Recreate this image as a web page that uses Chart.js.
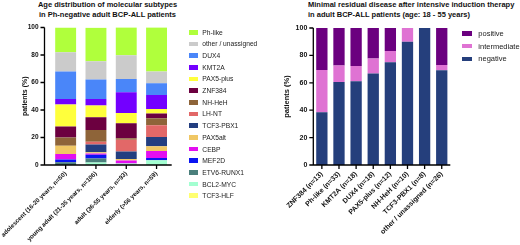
<!DOCTYPE html>
<html>
<head>
<meta charset="utf-8">
<script src="https://cdn.jsdelivr.net/npm/chart.js@4"></script>
<style>
  html, body { margin:0; padding:0; background:#fff; width:520px; height:245px; overflow:hidden; }
  body { position:relative; font-family:"Liberation Sans", Arial, sans-serif; }
  canvas { position:absolute; left:0; top:0; }
  .title { position:absolute; font-weight:bold; font-size:7.5px; line-height:9.6px; color:#111; white-space:nowrap; }
  .leg { position:absolute; white-space:nowrap; color:#222; }
  .leg .it { position:absolute; left:0; display:flex; align-items:center; }
  .leg .bx { display:inline-block; }
</style>
</head>
<body>
<div class="title" id="t1" style="left:0; width:215px; text-align:center; top:0px;">Age distribution of molecular subtypes<br>in Ph-negative adult BCP-ALL patients</div>
<div class="title" id="t2" style="left:308px; top:0px;">Minimal residual disease after intensive induction therapy<br>in adult BCP-ALL patients (age: 18 - 55 years)</div>
<canvas id="c1" width="520" height="245"></canvas>
<canvas id="c2" width="520" height="245"></canvas>
<div class="leg" id="leg1" style="left:189px; top:0;"></div>
<div class="leg" id="leg2" style="left:462px; top:0;"></div>
<script>
// ---------- data: left chart ----------
const ageGroups = ['adolescent (16-20 years, n=50)', 'young adult (21-35 years, n=106)', 'adult (36-55 years, n=93)', 'elderly (>56 years, n=59)'];
const subtypes = ['Ph-like','other / unassigned','DUX4','KMT2A','PAX5-plus','ZNF384','NH-HeH','LH-NT','TCF3-PBX1','PAX5alt','CEBP','MEF2D','ETV6-RUNX1','BCL2-MYC','TCF3-HLF'];
const adolescent = [18, 14, 20, 4, 16, 8, 6, 0, 0, 6, 4, 2, 2, 0, 0];
const youngAdult = [24.5, 13.2, 14.2, 4.7, 8.5, 9.4, 8.5, 1.9, 5.7, 0.9, 0.9, 2.8, 2.8, 1.9, 0];
const adult      = [20.4, 17.2, 9.7, 15.1, 7.5, 10.8, 1.1, 8.6, 5.4, 1.1, 2.2, 0, 0, 1.1, 0];
const elderly    = [32.2, 8.5, 8.5, 10.2, 3.4, 3.4, 5.1, 8.5, 6.8, 3.4, 5.1, 1.7, 0, 3.4, 0];
const yTicks = [0, 20, 40, 60, 80, 100];

// ---------- data: right chart ----------
const mrdGroups = ['ZNF384 (n=13)', 'Ph-like (n=33)', 'KMT2A (n=18)', 'DUX4 (n=18)', 'PAX5-plus (n=12)', 'NH-HeH (n=10)', 'TCF3-PBX1 (n=8)', 'other / unassigned (n=26)'];
const mrdStatus = ['positive', 'intermediate', 'negative'];
const mrdNegative     = [38.5, 60.6, 61.1, 66.7, 75.0, 90.0, 100, 69.2];
const mrdIntermediate = [30.8, 12.1, 11.1, 11.1, 8.3, 10.0, 0, 3.8];
const mrdPositive     = [30.7, 27.3, 27.8, 22.2, 16.7, 0, 0, 27.0];

// ---------- styles ----------
const subtypeColors = ['#b0ff3c','#cbcbcb','#4a86f9','#7300ff','#ffff3c','#6c0040','#8e6439','#e26868','#233e80','#f0c764','#e30ef0','#0a14f2','#4b7f7c','#a3ffd1','#ffff70'];
const mrdColors = ['#6b007f', '#df73d3', '#253f7c'];
const FONT = '"Liberation Sans", Arial, sans-serif';

const axisPlugin = {
  id: 'gpAxes',
  afterDraw(chart, args, opts) {
    const {ctx, chartArea: a, scales: {x, y}} = chart;
    const ax = a.left - (opts.yOffset || 0);
    ctx.save();
    ctx.strokeStyle = '#000';
    ctx.lineWidth = opts.lw || 1.3;
    ctx.beginPath();
    ctx.moveTo(ax, a.top); ctx.lineTo(ax, a.bottom); ctx.lineTo(a.right, a.bottom);
    y.ticks.forEach(t => { const py = y.getPixelForValue(t.value); ctx.moveTo(ax - opts.tick, py); ctx.lineTo(ax, py); });
    x.ticks.forEach((t, i) => { const px = x.getPixelForTick(i); ctx.moveTo(px, a.bottom); ctx.lineTo(px, a.bottom + opts.tick); });
    ctx.stroke();
    ctx.restore();
  }
};

function makeChart(id, labels, datasets, cfg) {
  return new Chart(document.getElementById(id), {
    type: 'bar',
    data: { labels, datasets },
    plugins: [axisPlugin],
    options: {
      responsive: false, animation: false, events: [],
      layout: { padding: cfg.padding },
      plugins: { legend: { display: false }, tooltip: { enabled: false }, gpAxes: { yOffset: cfg.yOffset, tick: 4, lw: 1.3 } },
      datasets: { bar: { categoryPercentage: 1, barPercentage: cfg.barPct, borderWidth: 0 } },
      scales: {
        x: {
          stacked: true, offset: true,
          grid: { display: false, drawTicks: false }, border: { display: false },
          ticks: { autoSkip: false, minRotation: 45, maxRotation: 45, padding: cfg.xPad, color: '#111',
                   font: { family: FONT, size: cfg.xFont, weight: cfg.xWeight } },
          afterFit(s) { s.height = cfg.xHeight; s.paddingLeft = 0; s.paddingRight = 0; }
        },
        y: {
          stacked: true, min: 0, max: 100,
          afterBuildTicks(s) { s.ticks = yTicks.map(v => ({ value: v })); },
          grid: { display: false, drawTicks: false }, border: { display: false },
          ticks: { padding: cfg.yPad, color: '#111', font: { family: FONT, size: cfg.yFont, weight: 'bold' } },
          title: { display: true, text: 'patients (%)', color: '#111', padding: { top: cfg.titlePad, bottom: 0 },
                   font: { family: FONT, size: cfg.yTitleFont, weight: 'bold' } },
          afterFit(s) { s.width = cfg.yWidth; s.paddingTop = 0; s.paddingBottom = 0; }
        }
      }
    }
  });
}

// left chart: datasets bottom-to-top (reverse of legend order)
const byAge = [adolescent, youngAdult, adult, elderly];
const leftSets = subtypes.map((name, i) => ({
  label: name, data: byAge.map(g => g[i]), backgroundColor: subtypeColors[i]
})).reverse();

makeChart('c1', ageGroups, leftSets, {
  padding: { left: 0, top: 27.5, right: 348.3, bottom: 0 },
  yWidth: 50.5, yOffset: 6, yPad: 12, xHeight: 80, xPad: 5, barPct: 0.69,
  xFont: 6.2, xWeight: 'bold', yFont: 6.5, yTitleFont: 7, titlePad: 20.8
});

const mrdData = [mrdPositive, mrdIntermediate, mrdNegative];
const rightSets = mrdStatus.map((name, i) => ({
  label: name, data: mrdData[i], backgroundColor: mrdColors[i]
})).reverse();

makeChart('c2', mrdGroups, rightSets, {
  padding: { left: 260, top: 28, right: 69.7, bottom: 0 },
  yWidth: 53.3, yOffset: 0, yPad: 6, xHeight: 80, xPad: 5, barPct: 0.66,
  xFont: 7, xWeight: 'bold', yFont: 7, yTitleFont: 7.5, titlePad: 22.5
});

// legends built from the same arrays
function buildLegend(elId, names, colors, start, step, boxW, boxH, gap, fontSize) {
  const el = document.getElementById(elId);
  names.forEach((n, i) => {
    const it = document.createElement('div');
    it.className = 'it';
    it.style.top = (start + i * step - 6) + 'px';
    it.style.height = '12px';
    it.style.fontSize = fontSize + 'px';
    const bx = document.createElement('span');
    bx.className = 'bx';
    bx.style.width = boxW + 'px'; bx.style.height = boxH + 'px'; bx.style.background = colors[i];
    bx.style.marginRight = gap + 'px';
    const tx = document.createElement('span');
    tx.textContent = n;
    it.appendChild(bx); it.appendChild(tx);
    el.appendChild(it);
  });
}
buildLegend('leg1', subtypes, subtypeColors, 32.3, 11.67, 9, 4.5, 4.3, 6.7);
buildLegend('leg2', mrdStatus, mrdColors, 33.3, 12.8, 10, 4.5, 6.3, 7.5);
</script>
</body>
</html>
